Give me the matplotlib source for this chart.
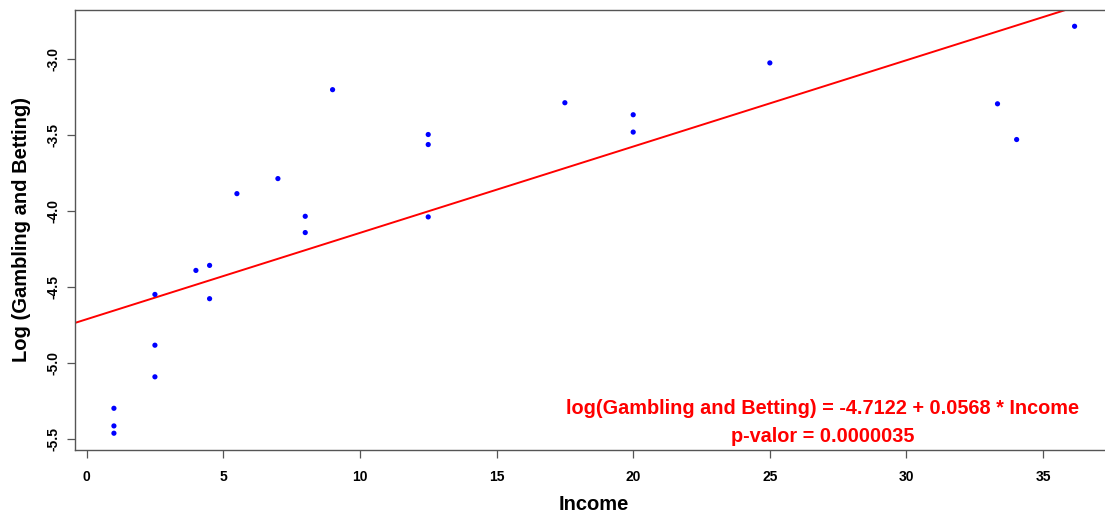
import matplotlib
matplotlib.use("Agg")
import matplotlib.pyplot as plt
import numpy as np

# Income vs log(Gambling and Betting) share
income = [1.0, 1.0, 1.0, 2.5, 2.5, 2.5, 4.0, 4.5, 4.5, 5.5, 7.0, 8.0, 8.0, 9.0,
          12.5, 12.5, 12.5, 17.5, 20.0, 20.0, 25.0, 33.33, 34.03, 36.15]
log_gambling = [-5.298, -5.414, -5.462, -4.549, -4.883, -5.091, -4.391, -4.358,
                -4.577, -3.886, -3.787, -4.035, -4.142, -3.202, -3.497, -3.563,
                -4.039, -3.288, -3.367, -3.481, -3.026, -3.295, -3.530, -2.785]

# Fitted linear model
intercept = -4.7122
slope = 0.0568
p_value = "0.0000035"

x_ticks = [0, 5, 10, 15, 20, 25, 30, 35]
y_ticks = [-5.5, -5.0, -4.5, -4.0, -3.5, -3.0]

plt.rcParams['font.family'] = ['Liberation Sans', 'DejaVu Sans']
plt.rcParams['font.weight'] = 'bold'

W, H = 1105, 515
fig = plt.figure(figsize=(W / 100, H / 100), dpi=100)
# axes box runs slightly past the right edge of the figure
left, right, top, bottom = 75.5, 1113, 10, 449.5
ax = fig.add_axes([left / W, 1 - bottom / H, (right - left) / W, (bottom - top) / H])

# R-style 4% padding around the data range
xr = max(income) - min(income)
yr = max(log_gambling) - min(log_gambling)
ax.set_xlim(min(income) - 0.04 * xr, max(income) + 0.04 * xr)
ax.set_ylim(min(log_gambling) - 0.04 * yr, max(log_gambling) + 0.04 * yr)

ax.scatter(income, log_gambling, s=14, color='blue', edgecolors='none', zorder=3)
ax.axline((0, intercept), slope=slope, color='red', lw=1.4, zorder=2)

ax.set_xticks(x_ticks)
ax.set_xticklabels([str(t) for t in x_ticks])
ax.set_yticks(y_ticks)
ax.set_yticklabels([f"{t:.1f}" for t in y_ticks], rotation=90, va='center')
ax.tick_params(direction='out', length=6, width=0.9, color='#555555', labelsize=10)
ax.tick_params(axis='x', pad=9)
ax.tick_params(axis='y', pad=5)
for s in ax.spines.values():
    s.set_color('#555555')
    s.set_linewidth(1.0)

ax.set_xlabel('Income', fontsize=14.5, fontweight='bold', labelpad=8)
ax.set_ylabel('Log (Gambling and Betting)', fontsize=14.5, fontweight='bold', labelpad=11)

eq = f"log(Gambling and Betting) = {intercept:.4f} + {slope:.4f} * Income"
fig.text(823 / W, 1 - 409 / H, eq, color='red', fontsize=14.3,
         fontweight='bold', ha='center', va='center')
fig.text(823 / W, 1 - 437 / H, f"p-valor = {p_value}", color='red',
         fontsize=14.3, fontweight='bold', ha='center', va='center')

fig.savefig('out.png', dpi=100)
